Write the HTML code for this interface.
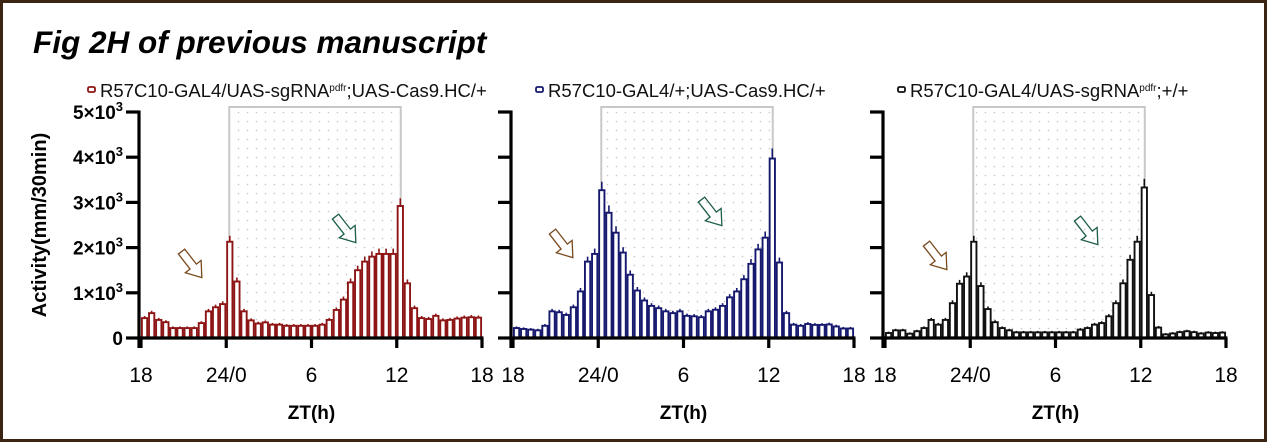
<!DOCTYPE html>
<html><head><meta charset="utf-8"><style>
html,body{margin:0;padding:0;background:#fff;}
#wrap{position:relative;width:1267px;height:442px;box-sizing:border-box;border:3px solid #3b2412;background:#fff;overflow:hidden;}
svg text{font-family:"Liberation Sans",sans-serif;}
</style></head><body>
<div id="wrap">
<svg id="chart" width="1267" height="442" style="position:absolute;left:-3px;top:-3px">
<defs>
<pattern id="dots" width="9" height="9" patternUnits="userSpaceOnUse"><circle cx="4.5" cy="4.5" r="0.8" fill="#c4c4c4"/></pattern>
</defs>
<text x="33" y="53" font-size="31.5" font-weight="bold" font-style="italic">Fig 2H of previous manuscript</text>
<text transform="translate(46,225) rotate(-90)" text-anchor="middle" font-size="20" font-weight="bold">Activity(mm/30min)</text>
</svg>
</div>
<script>
const xTickLabels = ["18","24/0","6","12","18"];
const yTickValues = [0,1000,2000,3000,4000,5000];
const yTickLabels = ["0","1×10","2×10","3×10","4×10","5×10"];
const seriesNames = ["R57C10-GAL4/UAS-sgRNA|pdfr|;UAS-Cas9.HC/+","R57C10-GAL4/+;UAS-Cas9.HC/+","R57C10-GAL4/UAS-sgRNA|pdfr|;+/+"];
const seriesA = [440,550,400,350,220,220,220,220,330,590,680,750,2130,1250,590,390,320,345,295,295,270,270,270,270,270,295,400,620,850,1230,1500,1690,1800,1860,1860,1860,2920,1210,660,440,420,490,390,400,430,450,460,450];
const seriesB = [220,200,185,170,270,590,570,510,680,1030,1690,1860,3270,2770,2330,1890,1400,1050,830,710,660,590,550,590,490,480,460,590,625,710,900,1030,1300,1640,1960,2220,3970,1670,550,295,270,310,290,290,300,255,210,210];
const seriesC = [110,170,170,95,150,220,400,295,400,770,1200,1360,2130,1150,640,350,220,170,125,125,125,125,125,125,125,125,125,185,220,295,330,480,770,1210,1730,2130,3330,950,230,80,100,130,150,130,100,120,110,120];
const allSeries=[seriesA,seriesB,seriesC];
const colors=["#8e1515","#16196e","#111111"];
const panels=[{x0:141,x1:482,lx:88},{x0:513,x1:854,lx:536},{x0:885,x1:1226,lx:898}];
const yMax=5000, yBase=338, yTop=112;
const NS="http://www.w3.org/2000/svg";
const svg=document.getElementById('chart');
function mk(tag,attrs,parent){const e=document.createElementNS(NS,tag);for(const k in attrs)e.setAttribute(k,attrs[k]);(parent||svg).appendChild(e);return e;}
function yS(v){return yBase-(v/yMax)*(yBase-yTop);}
panels.forEach((p,pi)=>{
  const g=mk('g',{});
  
  
  const data=allSeries[pi];
  const n=data.length;
  const bw=(p.x1-p.x0)/n;
  const xS=i=>p.x0+i*bw;
  const sx0=xS(12)+3, sx1=xS(36)+4;
  const sh=mk('rect',{x:sx0,y:107,width:sx1-sx0,height:yBase-107,fill:'url(#dots)',stroke:'#c8c8c8','stroke-width':2},g);
  
  
  data.forEach((v,i)=>{
    const err=v*0.05+25;
    const b=mk('rect',{x:xS(i)+0.9,y:yS(v),width:bw-1.8,height:yBase-yS(v),fill:'#fff',stroke:colors[pi],'stroke-width':1.9},g);
    
    
    const e=mk('line',{x1:xS(i)+bw/2,x2:xS(i)+bw/2,y1:yS(v+err),y2:yS(v),stroke:colors[pi],'stroke-width':1.6},g);
    
    
  });
  const ax=p.x0-2;
  const ya=mk('line',{x1:ax,x2:ax,y1:yTop-1.5,y2:yBase+10,stroke:'#000','stroke-width':3.2},g);
  
  
  const xa=mk('line',{x1:ax-1.5,x2:p.x1+1.5,y1:yBase,y2:yBase,stroke:'#000','stroke-width':3.2},g);
  
  
  yTickValues.forEach((v,i)=>{
    mk('line',{x1:ax-13,x2:ax,y1:yS(v),y2:yS(v),stroke:'#000','stroke-width':3.2},g);
    if(pi===0){
      const t=mk('text',{x:ax-16,y:yS(v)+7,'text-anchor':'end','font-size':19,'font-weight':'bold'},g);
      
      
      t.textContent=yTickLabels[i];
      if(v>0){const s=mk('tspan',{dy:-8,'font-size':13},t);s.textContent='3';}
    }
  });
  xTickLabels.forEach((l,i)=>{
    const x=p.x0+i*(p.x1-p.x0)/4;
    mk('line',{x1:x,x2:x,y1:yBase,y2:yBase+10,stroke:'#000','stroke-width':3.2},g);
    const t=mk('text',{x:x,y:382,'text-anchor':'middle','font-size':21},g);
    
    
    t.textContent=l;
  });
  const xt=mk('text',{x:(p.x0+p.x1)/2,y:419,'text-anchor':'middle','font-size':19,'font-weight':'bold'},g);
  
  
  xt.textContent='ZT(h)';
  const lm=mk('rect',{x:p.lx,y:87,width:7,height:5,rx:1.5,fill:'#fff',stroke:colors[pi],'stroke-width':1.8},g);
  
  
  const lt=mk('text',{x:p.lx+12,y:97,'font-size':18.5,fill:'#111'},g);
  
  
  const parts=seriesNames[pi].split('|');
  parts.forEach((s,k)=>{const ts=mk('tspan',k===1?{'font-size':10,dy:-6}:(k===2?{dy:6}:{}),lt);ts.textContent=s;});
  const arrowDefs=[[[192,265],[346,230]],[[563,245],[712,213]],[[937,257],[1088,232]]];
  const acol=['#7a4a1e','#1e5e48'];
  arrowDefs[pi].forEach((c,k)=>{
    const a=mk('polygon',{points:'-4,-17 4,-17 4,2 10,2 0,16 -10,2 -4,2',fill:'none',stroke:acol[k],'stroke-width':1.3,transform:`translate(${c[0]},${c[1]}) rotate(-38)`},g);
    
    
  });
});
</script>
</body></html>
